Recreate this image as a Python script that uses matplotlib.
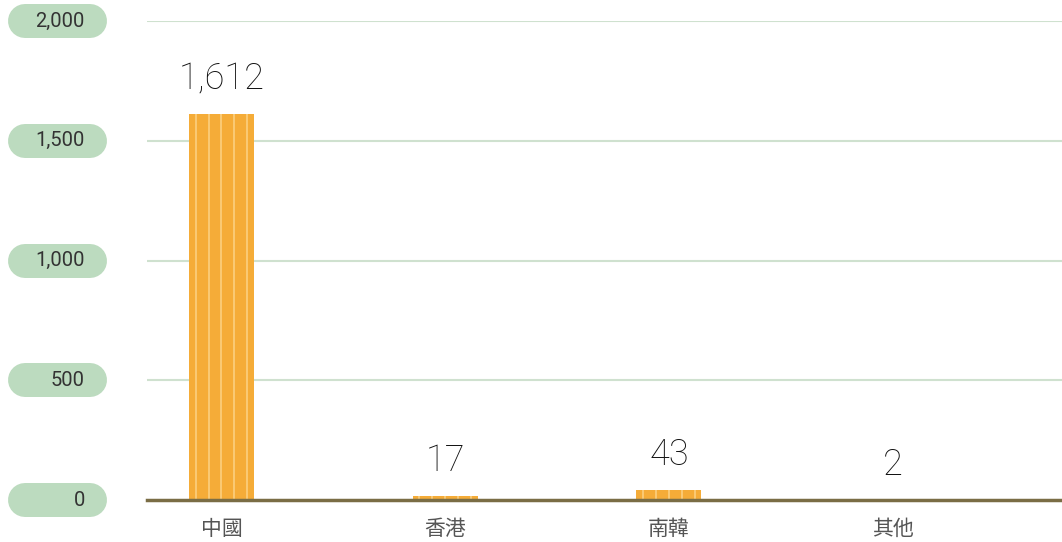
import matplotlib.pyplot as plt
import matplotlib.transforms as mtransforms
import numpy as np

categories = ['中國', '香港', '南韓', '其他']
values = [1612, 17, 43, 2]
value_labels = ['1,612', '17', '43', '2']
yticks = [0, 500, 1000, 1500, 2000]
ytick_labels = ['0', '500', '1,000', '1,500', '2,000']

bar_color = '#f5ac38'
stripe_color = '#fcd386'
pill_color = '#bcdbbf'
grid_color = '#cfe1cf'
base_color = '#7a6d45'

W, H = 1062, 542
fig = plt.figure(figsize=(W / 100, H / 100), dpi=100)
ax = fig.add_axes([147 / W, 42 / H, 1 - 147 / W, 479 / H])

x = np.arange(len(categories))
w = 0.29
ax.bar(x, values, width=w, color=bar_color, zorder=2)
# thin light stripes inside each bar
for xi, v in zip(x, values):
    for k in range(5):
        xs = xi - w / 2 + (0.1 + 0.2 * k) * w
        ax.plot([xs, xs], [0, v], color=stripe_color, lw=1.1, zorder=3,
                solid_capstyle='butt')

for xi, v, lab in zip(x, values, value_labels):
    ax.annotate(lab, (xi, v), xytext=(0, 12), textcoords='offset points',
                ha='center', va='bottom', fontsize=26, color='#111111',
                family=['Roboto', 'DejaVu Sans'], fontweight='light')

ax.set_xlim(-0.333, 3.757)
ax.set_ylim(0, 2000)

for t in yticks[1:]:
    ax.axhline(t, color=grid_color, lw=1.5, zorder=1)
ax.axhline(0, color=base_color, lw=2.5, zorder=4, clip_on=False)

for s in ax.spines.values():
    s.set_visible(False)
ax.set_yticks([])
ax.set_xticks(x)
ax.set_xticklabels(categories, fontsize=15, color='#555555', fontweight='light',
                   family=['Noto Sans CJK TC', 'DejaVu Sans'])
ax.tick_params(axis='x', length=0, pad=13)

# pill shaped y tick labels
trans = mtransforms.blended_transform_factory(fig.transFigure, ax.transData)
for t, lab in zip(yticks, ytick_labels):
    ax.plot([25 / W, 90 / W], [t, t], transform=trans, color=pill_color,
            lw=34 * 0.72, solid_capstyle='round', clip_on=False, zorder=1)
    ax.text(85 / W, t, lab, transform=trans, ha='right', va='center',
            fontsize=14.5, color='#333333', family=['Roboto', 'DejaVu Sans'],
            clip_on=False)

fig.savefig('out.png', dpi=100)
